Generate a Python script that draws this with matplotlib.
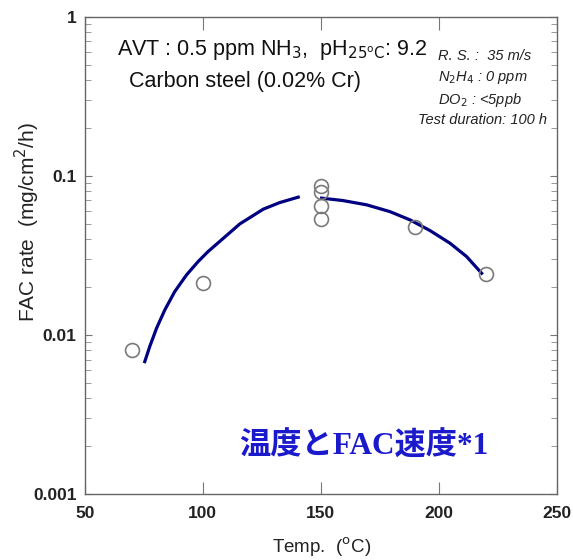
import matplotlib.pyplot as plt
from matplotlib.ticker import FixedLocator, LogLocator, NullFormatter

plt.rcParams['font.family'] = ['Liberation Sans', 'DejaVu Sans']

# measured points
temp = [70, 100, 150, 150, 150, 150, 190, 220]
fac_rate = [0.0080, 0.0212, 0.0857, 0.0797, 0.0648, 0.0534, 0.048, 0.0242]

# fitted trend, two segments
fit_lo_t = [75.4, 77.5, 80.4, 83.9, 88.1, 93.1, 98.0, 102.2, 115.7, 125.6,
            132.6, 140.4]
fit_lo_r = [0.00679, 0.00844, 0.01102, 0.01436, 0.01872, 0.02384, 0.02891,
            0.0334, 0.0499, 0.06172, 0.06793, 0.07345]
fit_hi_t = [150.3, 159.4, 169.4, 179.2, 187.7, 196.2, 204.7, 211.7, 218.1]
fit_hi_r = [0.0724, 0.0699, 0.0657, 0.0596, 0.0529, 0.0453, 0.0377, 0.0311,
            0.0244]

x_ticks = [50, 100, 150, 200, 250]
y_ticks = [0.001, 0.01, 0.1, 1]
y_labels = ["0.001", "0.01", "0.1", "1"]

fig = plt.figure(figsize=(5.73, 5.6), dpi=100)
ax = fig.add_axes([0.148, 0.118, 0.824, 0.852])

ax.plot(fit_lo_t, fit_lo_r, color="#000080", lw=2.3, zorder=2,
        solid_joinstyle="round")
ax.plot(fit_hi_t, fit_hi_r, color="#000080", lw=2.3, zorder=2,
        solid_joinstyle="round")
ax.plot(temp, fac_rate, "o", ms=10, mfc="none", mec="#7a7a7a", mew=1.2,
        zorder=3)

ax.set_yscale("log")
ax.set_xlim(50, 250)
ax.set_ylim(0.001, 1)
ax.xaxis.set_major_locator(FixedLocator(x_ticks))
ax.yaxis.set_major_locator(FixedLocator(y_ticks))
ax.set_yticklabels(y_labels)
ax.yaxis.set_minor_locator(LogLocator(base=10, subs=range(2, 10)))
ax.yaxis.set_minor_formatter(NullFormatter())

ax.tick_params(axis="x", which="major", direction="in", length=9, width=0.8,
               color="#777777", top=True, labelsize=12.5, pad=9)
ax.tick_params(axis="y", which="major", direction="in", length=5, width=0.8,
               color="#777777", right=True, labelsize=12.5, pad=6)
ax.tick_params(axis="y", which="minor", direction="in", length=4, width=0.7,
               color="#999999", right=True)
for lab in ax.get_xticklabels() + ax.get_yticklabels():
    lab.set_fontweight("bold")
    lab.set_color("#222222")

for s in ax.spines.values():
    s.set_color("#666666")
    s.set_linewidth(1.0)

ax.set_xlabel("Temp.  ($^{\\rm o}$C)", fontsize=13.5, color="#222222")
ax.set_ylabel("FAC rate  (mg/cm$^2$/h)", fontsize=15, color="#222222")
ax.xaxis.set_label_coords(0.502, -0.088)
ax.yaxis.set_label_coords(-0.09, 0.57)

fig.text(0.205, 0.911, "AVT : 0.5 ppm NH$_3$,  pH$_{25^{\\rm o}\\rm C}$: 9.2",
         fontsize=15.5, color="#111111", va="center")
fig.text(0.225, 0.854, "Carbon steel (0.02% Cr)", fontsize=15.5,
         color="#111111", va="center")

side = ["R. S. :  35 m/s", "N$_2$H$_4$ : 0 ppm", "DO$_2$ : <5ppb"]
side_y = [0.900, 0.861, 0.821]
for t, y in zip(side, side_y):
    fig.text(0.764, y, t, fontsize=10.5, style="italic", ha="left",
             va="center", color="#222222")
fig.text(0.955, 0.786, "Test duration: 100 h", fontsize=10.5, style="italic",
         ha="right", va="center", color="#222222")

ax.text(0.591, 0.1, "温度とFAC速度*1", transform=ax.transAxes,
        ha="center", va="center", fontsize=22.5, fontweight="bold",
        color="#1a1acc", family=["Liberation Serif", "Noto Sans CJK JP"])

fig.savefig("out.png", dpi=100)
